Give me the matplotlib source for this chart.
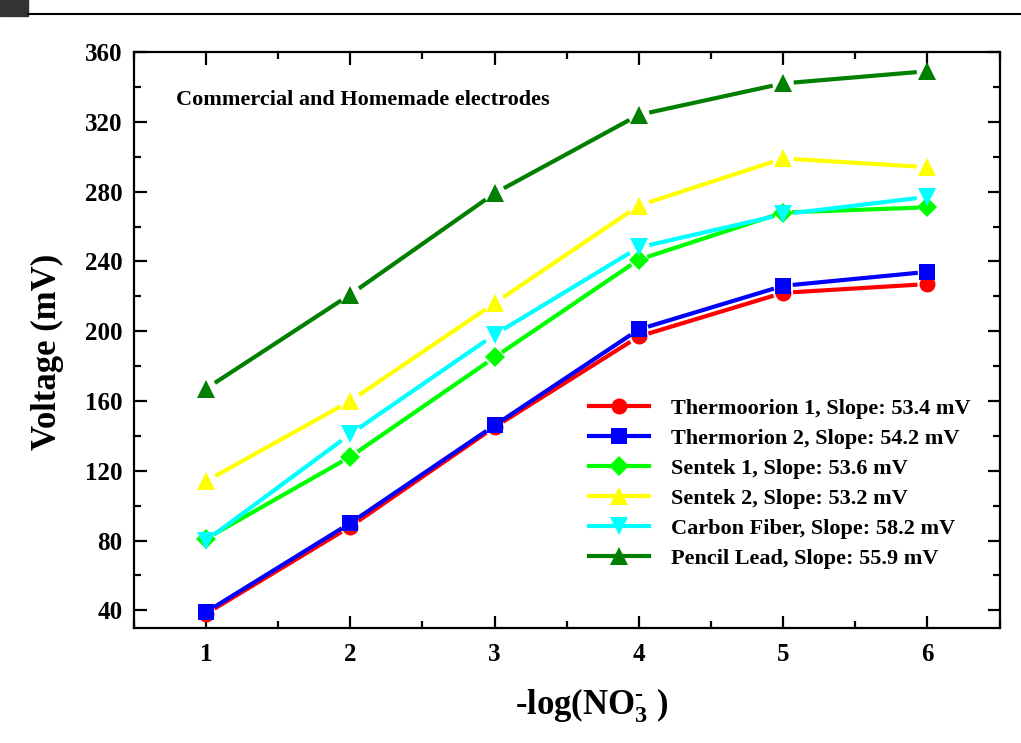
import numpy as np
import matplotlib.pyplot as plt
from matplotlib.patches import Rectangle
from matplotlib.lines import Line2D
from matplotlib.ticker import MultipleLocator

plt.rcParams['font.family'] = ['Liberation Serif', 'DejaVu Serif']
plt.rcParams['font.weight'] = 'bold'
plt.rcParams['axes.labelweight'] = 'bold'
plt.rcParams['mathtext.fontset'] = 'custom'
plt.rcParams['mathtext.rm'] = 'Liberation Serif:bold'
plt.rcParams['mathtext.it'] = 'Liberation Serif:bold'
plt.rcParams['mathtext.bf'] = 'Liberation Serif:bold'

# concentration steps, -log[NO3-]
pno3 = [1, 2, 3, 4, 5, 6]

thermo1 = [38, 88, 145, 197, 222, 227]
thermo2 = [39, 90, 146, 201, 226, 234]
sentek1 = [81, 128, 185, 241, 268, 271]
sentek2 = [114, 160, 216, 272, 299, 294]
carbon = [80, 141, 198, 248, 267, 277]
pencil = [167, 221, 279, 324, 342, 349]

labels = [
    'Thermoorion 1, Slope: 53.4 mV',
    'Thermorion 2, Slope: 54.2 mV',
    'Sentek 1, Slope: 53.6 mV',
    'Sentek 2, Slope: 53.2 mV',
    'Carbon Fiber, Slope: 58.2 mV',
    'Pencil Lead, Slope: 55.9 mV',
]
series = [thermo1, thermo2, sentek1, sentek2, carbon, pencil]
colors = ['#ff0000', '#0000ff', '#00ff00', '#ffff00', '#00ffff', '#007f00']
markers = ['o', 's', 'D', '^', 'v', '^']
msizes = [11.5, 11, 10, 12.5, 12.5, 12.5]

fig = plt.figure(figsize=(10.21, 7.43), dpi=100)
ax = fig.add_axes([0.131, 0.155, 0.848, 0.775])
ax.set_xlim(0.5, 6.5)
ax.set_ylim(30, 360)

# Origin-style lines: every segment stops a little short of the symbols
to_px = ax.transData
to_data = ax.transData.inverted()
handles = []
for k, (ys, c, m, ms, lab) in enumerate(zip(series, colors, markers, msizes, labels)):
    pts = to_px.transform(np.column_stack([pno3, ys]))
    gap = ms / 2 * fig.dpi / 72 + 2
    for p0, p1 in zip(pts[:-1], pts[1:]):
        u = (p1 - p0) / np.hypot(*(p1 - p0))
        seg = to_data.transform(np.array([p0 + u * gap, p1 - u * gap]))
        ax.plot(seg[:, 0], seg[:, 1], color=c, lw=3, solid_capstyle='butt',
                zorder=2 + k * 0.1)
    ax.plot(pno3, ys, ls='none', marker=m, markersize=ms, color=c,
            markeredgewidth=0, zorder=2.05 + k * 0.1)
    handles.append(Line2D([], [], color=c, lw=3, marker=m, markersize=ms,
                          markeredgewidth=0, label=lab))

ax.xaxis.set_major_locator(MultipleLocator(1))
ax.xaxis.set_minor_locator(MultipleLocator(0.5))
ax.yaxis.set_major_locator(MultipleLocator(40))
ax.yaxis.set_minor_locator(MultipleLocator(20))
ax.tick_params(which='both', direction='in', top=True, right=True,
               width=1.6, labelsize=18)
ax.tick_params(axis='x', pad=11)
ax.tick_params(axis='y', pad=8)
ax.tick_params(which='major', length=9)
ax.tick_params(which='minor', length=5)
for sp in ax.spines.values():
    sp.set_linewidth(1.6)

ax.set_xlabel(r'-log(NO$_3^{\text{-}}$ )', fontsize=25)
ax.xaxis.set_label_coords(0.529, -0.102)
ax.set_ylabel('Voltage (mV)', fontsize=25)
ax.yaxis.set_label_coords(-0.08, 0.479)

ax.text(0.049, 0.916, 'Commercial and Homemade electrodes', transform=ax.transAxes,
        fontsize=16, fontweight='bold', va='center')

ax.legend(handles=handles, loc='lower right', bbox_to_anchor=(0.99, 0.067),
          frameon=False, fontsize=16, numpoints=1, handlelength=2.7,
          handletextpad=1.0, labelspacing=0.43)

# cropped page artefact at the very top
fig.add_artist(Line2D([28 / 1021, 1], [1 - 14 / 743, 1 - 14 / 743],
                      color='black', lw=1.5, transform=fig.transFigure))
fig.add_artist(Rectangle((0, 1 - 16 / 743), 28 / 1021, 16 / 743,
                         color='#333333', transform=fig.transFigure))

fig.savefig('out.png', dpi=100)
